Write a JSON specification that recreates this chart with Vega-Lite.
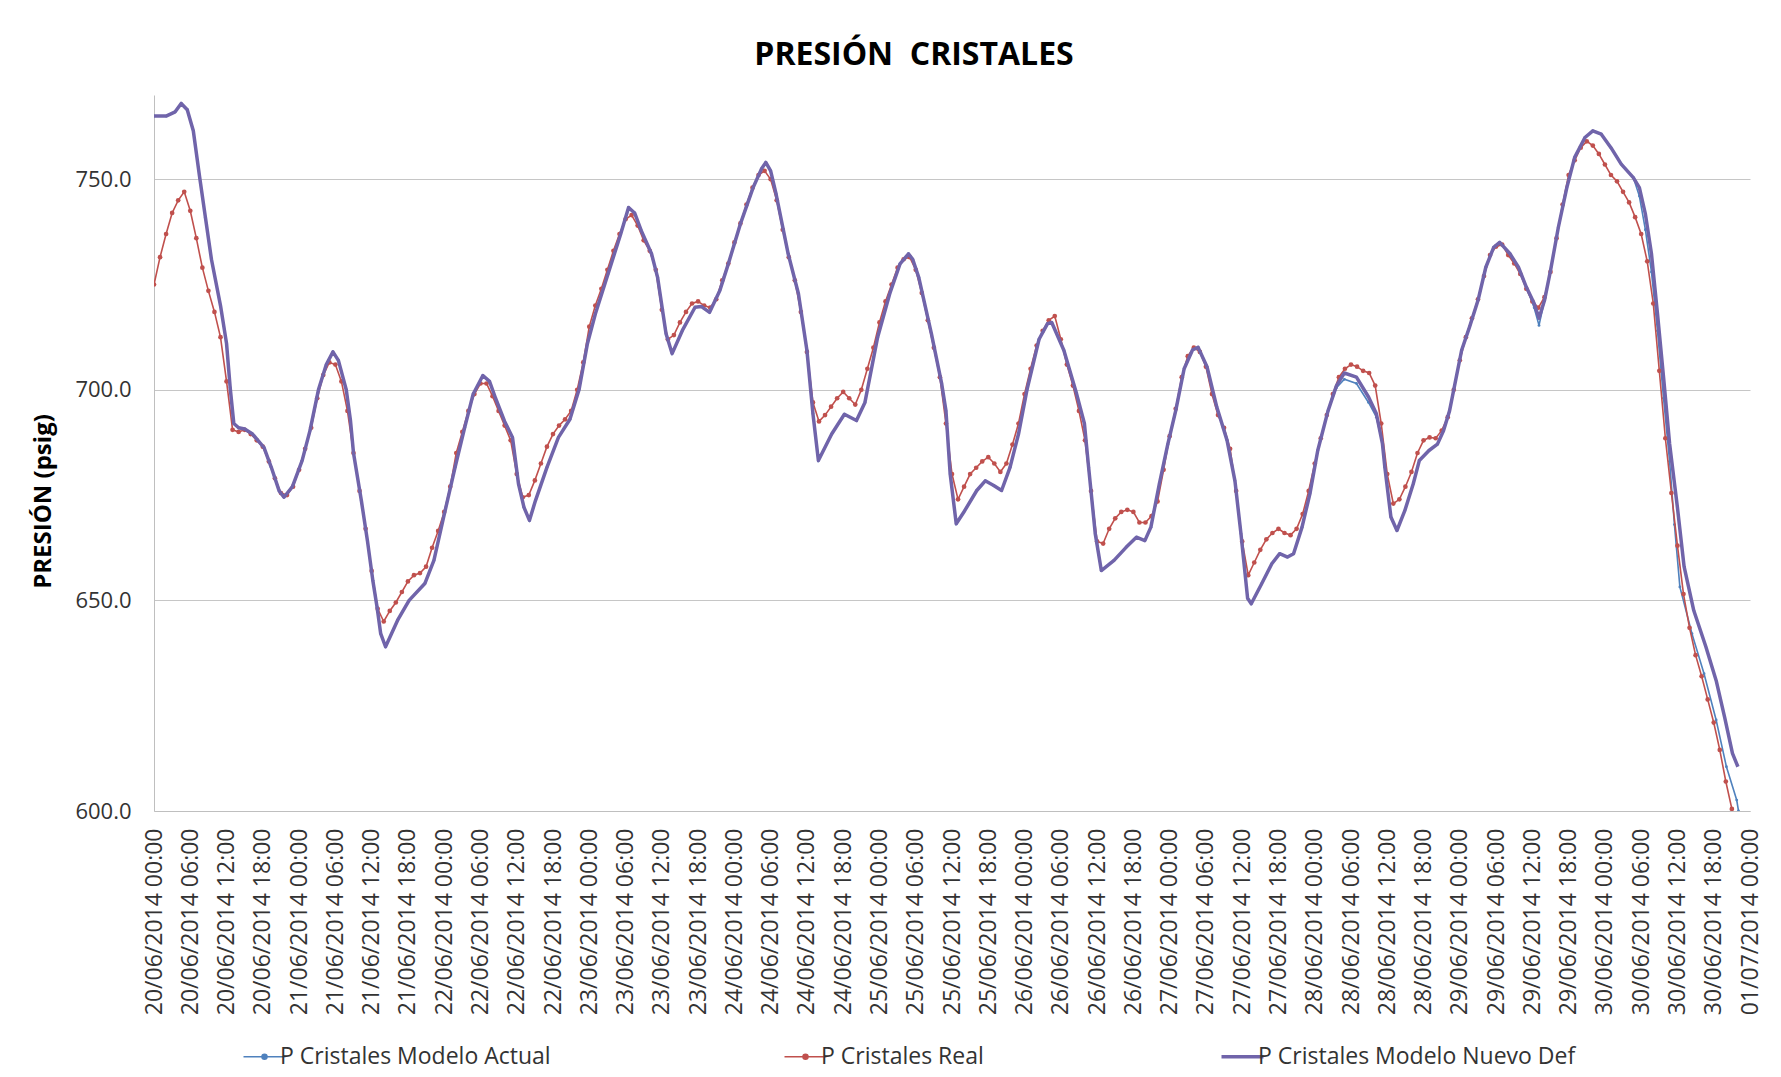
{
  "$schema": "https://vega.github.io/schema/vega-lite/v6.json",
  "width": 1596,
  "height": 716,
  "autosize": {"type": "none"},
  "padding": {"left": 154, "top": 95, "right": 31, "bottom": 266},
  "background": "white",
  "config": {"font": "Open Sans", "view": {"stroke": null}},
  "title": {"text": "PRESIÓN\u00a0 CRISTALES", "font": "Open Sans", "fontSize": 32, "fontWeight": "bold", "color": "#000000", "anchor": "middle", "dx": -38, "offset": 23},
  "datasets": {
    "real": [
      {"t": "2014-06-20T00:00", "v": 725}, {"t": "2014-06-20T01:00", "v": 731.5}, {"t": "2014-06-20T02:00", "v": 737}, {"t": "2014-06-20T03:00", "v": 742},
      {"t": "2014-06-20T04:00", "v": 745}, {"t": "2014-06-20T05:00", "v": 747}, {"t": "2014-06-20T06:00", "v": 742.5}, {"t": "2014-06-20T07:00", "v": 736},
      {"t": "2014-06-20T08:00", "v": 729}, {"t": "2014-06-20T09:00", "v": 723.5}, {"t": "2014-06-20T10:00", "v": 718.5}, {"t": "2014-06-20T11:00", "v": 712.5},
      {"t": "2014-06-20T12:00", "v": 702}, {"t": "2014-06-20T13:00", "v": 690.5}, {"t": "2014-06-20T14:00", "v": 690}, {"t": "2014-06-20T15:00", "v": 690.5},
      {"t": "2014-06-20T16:00", "v": 689.5}, {"t": "2014-06-20T17:00", "v": 688}, {"t": "2014-06-20T18:00", "v": 686.5}, {"t": "2014-06-20T19:00", "v": 683},
      {"t": "2014-06-20T20:00", "v": 679}, {"t": "2014-06-20T21:00", "v": 675.5}, {"t": "2014-06-20T22:00", "v": 675}, {"t": "2014-06-20T23:00", "v": 677},
      {"t": "2014-06-21T00:00", "v": 681}, {"t": "2014-06-21T01:00", "v": 686}, {"t": "2014-06-21T02:00", "v": 691}, {"t": "2014-06-21T03:00", "v": 698},
      {"t": "2014-06-21T04:00", "v": 703.5}, {"t": "2014-06-21T05:00", "v": 706.5}, {"t": "2014-06-21T06:00", "v": 706}, {"t": "2014-06-21T07:00", "v": 702},
      {"t": "2014-06-21T08:00", "v": 695}, {"t": "2014-06-21T09:00", "v": 685}, {"t": "2014-06-21T10:00", "v": 676}, {"t": "2014-06-21T11:00", "v": 667},
      {"t": "2014-06-21T12:00", "v": 657}, {"t": "2014-06-21T13:00", "v": 648}, {"t": "2014-06-21T14:00", "v": 645}, {"t": "2014-06-21T15:00", "v": 647.5},
      {"t": "2014-06-21T16:00", "v": 649.5}, {"t": "2014-06-21T17:00", "v": 652}, {"t": "2014-06-21T18:00", "v": 654.5}, {"t": "2014-06-21T19:00", "v": 656},
      {"t": "2014-06-21T20:00", "v": 656.5}, {"t": "2014-06-21T21:00", "v": 658}, {"t": "2014-06-21T22:00", "v": 662.5}, {"t": "2014-06-21T23:00", "v": 666.5},
      {"t": "2014-06-22T00:00", "v": 671}, {"t": "2014-06-22T01:00", "v": 677}, {"t": "2014-06-22T02:00", "v": 685}, {"t": "2014-06-22T03:00", "v": 690},
      {"t": "2014-06-22T04:00", "v": 695}, {"t": "2014-06-22T05:00", "v": 699}, {"t": "2014-06-22T06:00", "v": 701.5}, {"t": "2014-06-22T07:00", "v": 701.5},
      {"t": "2014-06-22T08:00", "v": 698.5}, {"t": "2014-06-22T09:00", "v": 695}, {"t": "2014-06-22T10:00", "v": 691.5}, {"t": "2014-06-22T11:00", "v": 688},
      {"t": "2014-06-22T12:00", "v": 680}, {"t": "2014-06-22T13:00", "v": 674.5}, {"t": "2014-06-22T14:00", "v": 675}, {"t": "2014-06-22T15:00", "v": 678.5},
      {"t": "2014-06-22T16:00", "v": 682.5}, {"t": "2014-06-22T17:00", "v": 686.5}, {"t": "2014-06-22T18:00", "v": 689.5}, {"t": "2014-06-22T19:00", "v": 691.5},
      {"t": "2014-06-22T20:00", "v": 693}, {"t": "2014-06-22T21:00", "v": 695}, {"t": "2014-06-22T22:00", "v": 700}, {"t": "2014-06-22T23:00", "v": 706.5},
      {"t": "2014-06-23T00:00", "v": 715}, {"t": "2014-06-23T01:00", "v": 720}, {"t": "2014-06-23T02:00", "v": 724}, {"t": "2014-06-23T03:00", "v": 728.5},
      {"t": "2014-06-23T04:00", "v": 733}, {"t": "2014-06-23T05:00", "v": 737}, {"t": "2014-06-23T06:00", "v": 740.5}, {"t": "2014-06-23T07:00", "v": 741.5},
      {"t": "2014-06-23T08:00", "v": 739}, {"t": "2014-06-23T09:00", "v": 735.5}, {"t": "2014-06-23T10:00", "v": 733}, {"t": "2014-06-23T11:00", "v": 728.5},
      {"t": "2014-06-23T12:00", "v": 719}, {"t": "2014-06-23T13:00", "v": 712}, {"t": "2014-06-23T14:00", "v": 713}, {"t": "2014-06-23T15:00", "v": 716},
      {"t": "2014-06-23T16:00", "v": 718.5}, {"t": "2014-06-23T17:00", "v": 720.5}, {"t": "2014-06-23T18:00", "v": 721}, {"t": "2014-06-23T19:00", "v": 720},
      {"t": "2014-06-23T20:00", "v": 719.5}, {"t": "2014-06-23T21:00", "v": 721.5}, {"t": "2014-06-23T22:00", "v": 726}, {"t": "2014-06-23T23:00", "v": 730},
      {"t": "2014-06-24T00:00", "v": 735}, {"t": "2014-06-24T01:00", "v": 739.5}, {"t": "2014-06-24T02:00", "v": 744}, {"t": "2014-06-24T03:00", "v": 748},
      {"t": "2014-06-24T04:00", "v": 751}, {"t": "2014-06-24T05:00", "v": 752}, {"t": "2014-06-24T06:00", "v": 750}, {"t": "2014-06-24T07:00", "v": 745},
      {"t": "2014-06-24T08:00", "v": 738}, {"t": "2014-06-24T09:00", "v": 731.5}, {"t": "2014-06-24T10:00", "v": 726}, {"t": "2014-06-24T11:00", "v": 718.5},
      {"t": "2014-06-24T12:00", "v": 709}, {"t": "2014-06-24T13:00", "v": 697}, {"t": "2014-06-24T14:00", "v": 692.5}, {"t": "2014-06-24T15:00", "v": 694},
      {"t": "2014-06-24T16:00", "v": 696}, {"t": "2014-06-24T17:00", "v": 698}, {"t": "2014-06-24T18:00", "v": 699.5}, {"t": "2014-06-24T19:00", "v": 698},
      {"t": "2014-06-24T20:00", "v": 696.5}, {"t": "2014-06-24T21:00", "v": 700}, {"t": "2014-06-24T22:00", "v": 705}, {"t": "2014-06-24T23:00", "v": 710},
      {"t": "2014-06-25T00:00", "v": 716}, {"t": "2014-06-25T01:00", "v": 721}, {"t": "2014-06-25T02:00", "v": 725}, {"t": "2014-06-25T03:00", "v": 729},
      {"t": "2014-06-25T04:00", "v": 731}, {"t": "2014-06-25T05:00", "v": 731.5}, {"t": "2014-06-25T06:00", "v": 728.5}, {"t": "2014-06-25T07:00", "v": 723},
      {"t": "2014-06-25T08:00", "v": 716.5}, {"t": "2014-06-25T09:00", "v": 710}, {"t": "2014-06-25T10:00", "v": 703}, {"t": "2014-06-25T11:00", "v": 692},
      {"t": "2014-06-25T12:00", "v": 680}, {"t": "2014-06-25T13:00", "v": 674}, {"t": "2014-06-25T14:00", "v": 677}, {"t": "2014-06-25T15:00", "v": 680},
      {"t": "2014-06-25T16:00", "v": 681.5}, {"t": "2014-06-25T17:00", "v": 683}, {"t": "2014-06-25T18:00", "v": 684}, {"t": "2014-06-25T19:00", "v": 682.5},
      {"t": "2014-06-25T20:00", "v": 680.5}, {"t": "2014-06-25T21:00", "v": 682.5}, {"t": "2014-06-25T22:00", "v": 687}, {"t": "2014-06-25T23:00", "v": 692},
      {"t": "2014-06-26T00:00", "v": 699}, {"t": "2014-06-26T01:00", "v": 705}, {"t": "2014-06-26T02:00", "v": 710.5}, {"t": "2014-06-26T03:00", "v": 714},
      {"t": "2014-06-26T04:00", "v": 716.5}, {"t": "2014-06-26T05:00", "v": 717.5}, {"t": "2014-06-26T06:00", "v": 712}, {"t": "2014-06-26T07:00", "v": 706},
      {"t": "2014-06-26T08:00", "v": 701}, {"t": "2014-06-26T09:00", "v": 695}, {"t": "2014-06-26T10:00", "v": 688}, {"t": "2014-06-26T11:00", "v": 676},
      {"t": "2014-06-26T12:00", "v": 664}, {"t": "2014-06-26T13:00", "v": 663.5}, {"t": "2014-06-26T14:00", "v": 667}, {"t": "2014-06-26T15:00", "v": 669.5},
      {"t": "2014-06-26T16:00", "v": 671}, {"t": "2014-06-26T17:00", "v": 671.5}, {"t": "2014-06-26T18:00", "v": 671}, {"t": "2014-06-26T19:00", "v": 668.5},
      {"t": "2014-06-26T20:00", "v": 668.5}, {"t": "2014-06-26T21:00", "v": 670}, {"t": "2014-06-26T22:00", "v": 673.5}, {"t": "2014-06-26T23:00", "v": 681},
      {"t": "2014-06-27T00:00", "v": 689}, {"t": "2014-06-27T01:00", "v": 695.5}, {"t": "2014-06-27T02:00", "v": 703}, {"t": "2014-06-27T03:00", "v": 708},
      {"t": "2014-06-27T04:00", "v": 710}, {"t": "2014-06-27T05:00", "v": 709}, {"t": "2014-06-27T06:00", "v": 705.5}, {"t": "2014-06-27T07:00", "v": 699},
      {"t": "2014-06-27T08:00", "v": 694}, {"t": "2014-06-27T09:00", "v": 691}, {"t": "2014-06-27T10:00", "v": 686}, {"t": "2014-06-27T11:00", "v": 676},
      {"t": "2014-06-27T12:00", "v": 664}, {"t": "2014-06-27T13:00", "v": 656}, {"t": "2014-06-27T14:00", "v": 659}, {"t": "2014-06-27T15:00", "v": 662},
      {"t": "2014-06-27T16:00", "v": 664.5}, {"t": "2014-06-27T17:00", "v": 666}, {"t": "2014-06-27T18:00", "v": 667}, {"t": "2014-06-27T19:00", "v": 666},
      {"t": "2014-06-27T20:00", "v": 665.5}, {"t": "2014-06-27T21:00", "v": 667}, {"t": "2014-06-27T22:00", "v": 670.5}, {"t": "2014-06-27T23:00", "v": 676},
      {"t": "2014-06-28T00:00", "v": 682.5}, {"t": "2014-06-28T01:00", "v": 688.5}, {"t": "2014-06-28T02:00", "v": 694}, {"t": "2014-06-28T03:00", "v": 699},
      {"t": "2014-06-28T04:00", "v": 703}, {"t": "2014-06-28T05:00", "v": 705}, {"t": "2014-06-28T06:00", "v": 706}, {"t": "2014-06-28T07:00", "v": 705.5},
      {"t": "2014-06-28T08:00", "v": 704.5}, {"t": "2014-06-28T09:00", "v": 704}, {"t": "2014-06-28T10:00", "v": 701}, {"t": "2014-06-28T11:00", "v": 692},
      {"t": "2014-06-28T12:00", "v": 680}, {"t": "2014-06-28T13:00", "v": 673}, {"t": "2014-06-28T14:00", "v": 674}, {"t": "2014-06-28T15:00", "v": 677},
      {"t": "2014-06-28T16:00", "v": 680.5}, {"t": "2014-06-28T17:00", "v": 685}, {"t": "2014-06-28T18:00", "v": 688}, {"t": "2014-06-28T19:00", "v": 688.7},
      {"t": "2014-06-28T20:00", "v": 688.5}, {"t": "2014-06-28T21:00", "v": 690.3}, {"t": "2014-06-28T22:00", "v": 693.5}, {"t": "2014-06-28T23:00", "v": 700},
      {"t": "2014-06-29T00:00", "v": 707}, {"t": "2014-06-29T01:00", "v": 712.5}, {"t": "2014-06-29T02:00", "v": 717}, {"t": "2014-06-29T03:00", "v": 721.5},
      {"t": "2014-06-29T04:00", "v": 727}, {"t": "2014-06-29T05:00", "v": 732}, {"t": "2014-06-29T06:00", "v": 734}, {"t": "2014-06-29T07:00", "v": 734.5},
      {"t": "2014-06-29T08:00", "v": 732}, {"t": "2014-06-29T09:00", "v": 730}, {"t": "2014-06-29T10:00", "v": 727.5}, {"t": "2014-06-29T11:00", "v": 724},
      {"t": "2014-06-29T12:00", "v": 721}, {"t": "2014-06-29T13:00", "v": 719.5}, {"t": "2014-06-29T14:00", "v": 722}, {"t": "2014-06-29T15:00", "v": 728},
      {"t": "2014-06-29T16:00", "v": 736}, {"t": "2014-06-29T17:00", "v": 744}, {"t": "2014-06-29T18:00", "v": 751}, {"t": "2014-06-29T19:00", "v": 754.5},
      {"t": "2014-06-29T20:00", "v": 757.5}, {"t": "2014-06-29T21:00", "v": 759}, {"t": "2014-06-29T22:00", "v": 758}, {"t": "2014-06-29T23:00", "v": 756},
      {"t": "2014-06-30T00:00", "v": 753.5}, {"t": "2014-06-30T01:00", "v": 751}, {"t": "2014-06-30T02:00", "v": 749.5}, {"t": "2014-06-30T03:00", "v": 747},
      {"t": "2014-06-30T04:00", "v": 744.5}, {"t": "2014-06-30T05:00", "v": 741}, {"t": "2014-06-30T06:00", "v": 737}, {"t": "2014-06-30T07:00", "v": 730.5},
      {"t": "2014-06-30T08:00", "v": 720.5}, {"t": "2014-06-30T09:00", "v": 704.5}, {"t": "2014-06-30T10:00", "v": 688.5}, {"t": "2014-06-30T11:00", "v": 675.5},
      {"t": "2014-06-30T12:00", "v": 663}, {"t": "2014-06-30T13:00", "v": 651.5}, {"t": "2014-06-30T14:00", "v": 643.5}, {"t": "2014-06-30T15:00", "v": 637},
      {"t": "2014-06-30T16:00", "v": 632}, {"t": "2014-06-30T17:00", "v": 626.5}, {"t": "2014-06-30T18:00", "v": 621}, {"t": "2014-06-30T19:00", "v": 614.5},
      {"t": "2014-06-30T20:00", "v": 607}, {"t": "2014-06-30T21:00", "v": 600.5}
    ],
    "nuevo": [
      {"t": "2014-06-20T00:00", "v": 765}, {"t": "2014-06-20T02:00", "v": 765}, {"t": "2014-06-20T03:30", "v": 766}, {"t": "2014-06-20T04:30", "v": 768},
      {"t": "2014-06-20T05:30", "v": 766.5}, {"t": "2014-06-20T06:30", "v": 761.5}, {"t": "2014-06-20T07:30", "v": 751}, {"t": "2014-06-20T08:30", "v": 741},
      {"t": "2014-06-20T09:30", "v": 731}, {"t": "2014-06-20T11:00", "v": 720}, {"t": "2014-06-20T12:00", "v": 711}, {"t": "2014-06-20T12:36", "v": 700.5},
      {"t": "2014-06-20T13:12", "v": 692}, {"t": "2014-06-20T14:00", "v": 691}, {"t": "2014-06-20T15:00", "v": 690.7}, {"t": "2014-06-20T16:18", "v": 689.5},
      {"t": "2014-06-20T18:12", "v": 686.3}, {"t": "2014-06-20T19:24", "v": 681.6}, {"t": "2014-06-20T20:42", "v": 676}, {"t": "2014-06-20T21:30", "v": 674.5},
      {"t": "2014-06-20T22:54", "v": 677}, {"t": "2014-06-21T00:30", "v": 683.2}, {"t": "2014-06-21T01:48", "v": 690.3}, {"t": "2014-06-21T03:12", "v": 700},
      {"t": "2014-06-21T04:30", "v": 706}, {"t": "2014-06-21T05:36", "v": 709}, {"t": "2014-06-21T06:30", "v": 707}, {"t": "2014-06-21T07:48", "v": 700},
      {"t": "2014-06-21T08:30", "v": 692.7}, {"t": "2014-06-21T09:00", "v": 685}, {"t": "2014-06-21T10:18", "v": 673.7}, {"t": "2014-06-21T11:18", "v": 664.2},
      {"t": "2014-06-21T12:12", "v": 654.7}, {"t": "2014-06-21T12:54", "v": 648.4}, {"t": "2014-06-21T13:30", "v": 642.1}, {"t": "2014-06-21T14:18", "v": 639},
      {"t": "2014-06-21T16:18", "v": 645.3}, {"t": "2014-06-21T18:12", "v": 650}, {"t": "2014-06-21T20:48", "v": 654}, {"t": "2014-06-21T22:18", "v": 659.5},
      {"t": "2014-06-21T23:54", "v": 669.7}, {"t": "2014-06-22T01:48", "v": 681.6}, {"t": "2014-06-22T03:24", "v": 691.1}, {"t": "2014-06-22T04:48", "v": 699},
      {"t": "2014-06-22T06:24", "v": 703.4}, {"t": "2014-06-22T07:30", "v": 702}, {"t": "2014-06-22T08:30", "v": 698}, {"t": "2014-06-22T10:00", "v": 692.5},
      {"t": "2014-06-22T11:18", "v": 688.7}, {"t": "2014-06-22T12:18", "v": 677.6}, {"t": "2014-06-22T13:12", "v": 672.1}, {"t": "2014-06-22T14:06", "v": 669},
      {"t": "2014-06-22T15:06", "v": 673.7}, {"t": "2014-06-22T17:00", "v": 681.6}, {"t": "2014-06-22T18:54", "v": 688.7}, {"t": "2014-06-22T20:48", "v": 693},
      {"t": "2014-06-22T22:18", "v": 700}, {"t": "2014-06-22T23:42", "v": 711}, {"t": "2014-06-23T01:00", "v": 718}, {"t": "2014-06-23T03:06", "v": 727.5},
      {"t": "2014-06-23T05:12", "v": 737}, {"t": "2014-06-23T06:30", "v": 743.3}, {"t": "2014-06-23T07:30", "v": 742}, {"t": "2014-06-23T08:36", "v": 737.8},
      {"t": "2014-06-23T10:18", "v": 732.3}, {"t": "2014-06-23T11:18", "v": 726.7}, {"t": "2014-06-23T12:42", "v": 713.3}, {"t": "2014-06-23T13:42", "v": 708.6},
      {"t": "2014-06-23T15:24", "v": 714.1}, {"t": "2014-06-23T17:30", "v": 719.6}, {"t": "2014-06-23T18:30", "v": 719.8}, {"t": "2014-06-23T19:54", "v": 718.4},
      {"t": "2014-06-23T21:36", "v": 723.6}, {"t": "2014-06-23T23:00", "v": 729.9}, {"t": "2014-06-24T01:00", "v": 739.4}, {"t": "2014-06-24T03:06", "v": 748},
      {"t": "2014-06-24T04:30", "v": 752.5}, {"t": "2014-06-24T05:12", "v": 754}, {"t": "2014-06-24T06:00", "v": 752}, {"t": "2014-06-24T06:54", "v": 746.5},
      {"t": "2014-06-24T08:54", "v": 732.3}, {"t": "2014-06-24T10:36", "v": 722.8}, {"t": "2014-06-24T12:00", "v": 709.4}, {"t": "2014-06-24T13:00", "v": 694.3},
      {"t": "2014-06-24T13:54", "v": 683.2}, {"t": "2014-06-24T16:06", "v": 689.5}, {"t": "2014-06-24T18:12", "v": 694.2}, {"t": "2014-06-24T20:12", "v": 692.7},
      {"t": "2014-06-24T21:36", "v": 697}, {"t": "2014-06-24T23:42", "v": 712.5}, {"t": "2014-06-25T01:42", "v": 722.8}, {"t": "2014-06-25T03:24", "v": 729.9},
      {"t": "2014-06-25T04:48", "v": 732.3}, {"t": "2014-06-25T05:30", "v": 731}, {"t": "2014-06-25T06:30", "v": 726.7}, {"t": "2014-06-25T08:36", "v": 713.3},
      {"t": "2014-06-25T10:18", "v": 701.4}, {"t": "2014-06-25T11:00", "v": 695}, {"t": "2014-06-25T11:42", "v": 680}, {"t": "2014-06-25T12:42", "v": 668.2},
      {"t": "2014-06-25T14:06", "v": 671.3}, {"t": "2014-06-25T16:06", "v": 676.1}, {"t": "2014-06-25T17:30", "v": 678.4}, {"t": "2014-06-25T18:54", "v": 677.3},
      {"t": "2014-06-25T20:12", "v": 676.1}, {"t": "2014-06-25T21:36", "v": 681.6}, {"t": "2014-06-25T23:00", "v": 689.5}, {"t": "2014-06-26T00:24", "v": 700},
      {"t": "2014-06-26T02:24", "v": 712}, {"t": "2014-06-26T03:48", "v": 715.7}, {"t": "2014-06-26T04:30", "v": 716}, {"t": "2014-06-26T06:30", "v": 709.4},
      {"t": "2014-06-26T08:36", "v": 699.1}, {"t": "2014-06-26T09:54", "v": 692}, {"t": "2014-06-26T10:36", "v": 681.6}, {"t": "2014-06-26T11:42", "v": 665.8},
      {"t": "2014-06-26T12:42", "v": 657.1}, {"t": "2014-06-26T14:48", "v": 659.5}, {"t": "2014-06-26T16:48", "v": 662.6}, {"t": "2014-06-26T18:30", "v": 665},
      {"t": "2014-06-26T19:54", "v": 664.2}, {"t": "2014-06-26T20:54", "v": 667.4}, {"t": "2014-06-26T22:18", "v": 677.7}, {"t": "2014-06-26T23:42", "v": 687.1},
      {"t": "2014-06-27T01:00", "v": 695}, {"t": "2014-06-27T02:24", "v": 705}, {"t": "2014-06-27T03:48", "v": 709.5}, {"t": "2014-06-27T04:42", "v": 710.1},
      {"t": "2014-06-27T06:12", "v": 705.4}, {"t": "2014-06-27T07:48", "v": 695.9}, {"t": "2014-06-27T09:30", "v": 688}, {"t": "2014-06-27T10:48", "v": 678.4},
      {"t": "2014-06-27T11:48", "v": 665.8}, {"t": "2014-06-27T12:54", "v": 650.5}, {"t": "2014-06-27T13:30", "v": 649.2}, {"t": "2014-06-27T15:12", "v": 653.9},
      {"t": "2014-06-27T16:54", "v": 658.7}, {"t": "2014-06-27T18:12", "v": 661.1}, {"t": "2014-06-27T19:30", "v": 660.3}, {"t": "2014-06-27T20:30", "v": 661.1},
      {"t": "2014-06-27T21:54", "v": 667.4}, {"t": "2014-06-27T23:12", "v": 675.3}, {"t": "2014-06-28T00:30", "v": 685.6}, {"t": "2014-06-28T02:12", "v": 695},
      {"t": "2014-06-28T03:36", "v": 701}, {"t": "2014-06-28T04:54", "v": 704}, {"t": "2014-06-28T06:54", "v": 703}, {"t": "2014-06-28T08:54", "v": 698.3},
      {"t": "2014-06-28T10:12", "v": 694.3}, {"t": "2014-06-28T11:12", "v": 687.2}, {"t": "2014-06-28T11:36", "v": 681.6}, {"t": "2014-06-28T12:36", "v": 669.8},
      {"t": "2014-06-28T13:36", "v": 666.6}, {"t": "2014-06-28T14:54", "v": 671.3}, {"t": "2014-06-28T16:18", "v": 677.7}, {"t": "2014-06-28T17:18", "v": 683.2},
      {"t": "2014-06-28T18:54", "v": 685.6}, {"t": "2014-06-28T20:18", "v": 687.1}, {"t": "2014-06-28T21:18", "v": 690.3}, {"t": "2014-06-28T22:18", "v": 695},
      {"t": "2014-06-29T00:18", "v": 709.4}, {"t": "2014-06-29T01:36", "v": 714.9}, {"t": "2014-06-29T03:00", "v": 721.2}, {"t": "2014-06-29T04:18", "v": 729.1},
      {"t": "2014-06-29T05:36", "v": 733.8}, {"t": "2014-06-29T06:36", "v": 735}, {"t": "2014-06-29T08:18", "v": 732.3}, {"t": "2014-06-29T09:42", "v": 729.1},
      {"t": "2014-06-29T11:00", "v": 724.4}, {"t": "2014-06-29T12:18", "v": 720.5}, {"t": "2014-06-29T13:06", "v": 717}, {"t": "2014-06-29T14:00", "v": 721.2},
      {"t": "2014-06-29T15:00", "v": 728.3}, {"t": "2014-06-29T16:18", "v": 738.6}, {"t": "2014-06-29T17:42", "v": 748}, {"t": "2014-06-29T19:00", "v": 755.2},
      {"t": "2014-06-29T20:42", "v": 759.9}, {"t": "2014-06-29T22:00", "v": 761.5}, {"t": "2014-06-29T23:24", "v": 760.7}, {"t": "2014-06-30T01:00", "v": 757.5},
      {"t": "2014-06-30T02:42", "v": 753.6}, {"t": "2014-06-30T04:42", "v": 750.4}, {"t": "2014-06-30T05:42", "v": 748}, {"t": "2014-06-30T06:42", "v": 741.7},
      {"t": "2014-06-30T07:42", "v": 732.3}, {"t": "2014-06-30T08:42", "v": 718}, {"t": "2014-06-30T09:42", "v": 703}, {"t": "2014-06-30T10:42", "v": 687.2},
      {"t": "2014-06-30T12:00", "v": 672}, {"t": "2014-06-30T13:06", "v": 658}, {"t": "2014-06-30T14:42", "v": 647.6}, {"t": "2014-06-30T16:42", "v": 639},
      {"t": "2014-06-30T18:24", "v": 631}, {"t": "2014-06-30T19:48", "v": 622.3}, {"t": "2014-06-30T21:06", "v": 613.7}, {"t": "2014-06-30T22:00", "v": 610.5}
    ],
    "actual": [
      {"t": "2014-06-20T00:00", "v": 765}, {"t": "2014-06-20T02:00", "v": 765}, {"t": "2014-06-20T03:30", "v": 766}, {"t": "2014-06-20T04:30", "v": 768},
      {"t": "2014-06-20T05:30", "v": 766.5}, {"t": "2014-06-20T06:30", "v": 761.5}, {"t": "2014-06-20T07:30", "v": 751}, {"t": "2014-06-20T08:30", "v": 741},
      {"t": "2014-06-20T09:30", "v": 731}, {"t": "2014-06-20T11:00", "v": 720}, {"t": "2014-06-20T12:00", "v": 711}, {"t": "2014-06-20T12:36", "v": 700.5},
      {"t": "2014-06-20T13:12", "v": 692}, {"t": "2014-06-20T14:00", "v": 691}, {"t": "2014-06-20T15:00", "v": 690.7}, {"t": "2014-06-20T16:18", "v": 689.5},
      {"t": "2014-06-20T18:12", "v": 686.3}, {"t": "2014-06-20T19:24", "v": 681.6}, {"t": "2014-06-20T20:42", "v": 676}, {"t": "2014-06-20T21:30", "v": 674.5},
      {"t": "2014-06-20T22:54", "v": 677}, {"t": "2014-06-21T00:30", "v": 683.2}, {"t": "2014-06-21T01:48", "v": 690.3}, {"t": "2014-06-21T03:12", "v": 700},
      {"t": "2014-06-21T04:30", "v": 706}, {"t": "2014-06-21T05:36", "v": 709}, {"t": "2014-06-21T06:30", "v": 707}, {"t": "2014-06-21T07:48", "v": 700},
      {"t": "2014-06-21T08:30", "v": 692.7}, {"t": "2014-06-21T09:00", "v": 685}, {"t": "2014-06-21T10:18", "v": 673.7}, {"t": "2014-06-21T11:18", "v": 664.2},
      {"t": "2014-06-21T12:12", "v": 654.7}, {"t": "2014-06-21T12:54", "v": 648.4}, {"t": "2014-06-21T13:30", "v": 642.1}, {"t": "2014-06-21T14:18", "v": 639},
      {"t": "2014-06-21T16:18", "v": 645.3}, {"t": "2014-06-21T18:12", "v": 650}, {"t": "2014-06-21T20:48", "v": 654}, {"t": "2014-06-21T22:18", "v": 659.5},
      {"t": "2014-06-21T23:54", "v": 669.7}, {"t": "2014-06-22T01:48", "v": 681.6}, {"t": "2014-06-22T03:24", "v": 691.1}, {"t": "2014-06-22T04:48", "v": 699},
      {"t": "2014-06-22T06:24", "v": 703.4}, {"t": "2014-06-22T07:30", "v": 702}, {"t": "2014-06-22T08:30", "v": 698}, {"t": "2014-06-22T10:00", "v": 692.5},
      {"t": "2014-06-22T11:18", "v": 688.7}, {"t": "2014-06-22T12:18", "v": 677.6}, {"t": "2014-06-22T13:12", "v": 672.1}, {"t": "2014-06-22T14:06", "v": 669},
      {"t": "2014-06-22T15:06", "v": 673.7}, {"t": "2014-06-22T17:00", "v": 681.6}, {"t": "2014-06-22T18:54", "v": 688.7}, {"t": "2014-06-22T20:48", "v": 693},
      {"t": "2014-06-22T22:18", "v": 700}, {"t": "2014-06-22T23:42", "v": 711}, {"t": "2014-06-23T01:00", "v": 718}, {"t": "2014-06-23T03:06", "v": 727.5},
      {"t": "2014-06-23T05:12", "v": 737}, {"t": "2014-06-23T06:30", "v": 743.3}, {"t": "2014-06-23T07:30", "v": 742}, {"t": "2014-06-23T08:36", "v": 737.8},
      {"t": "2014-06-23T10:18", "v": 732.3}, {"t": "2014-06-23T11:18", "v": 726.7}, {"t": "2014-06-23T12:42", "v": 713.3}, {"t": "2014-06-23T13:42", "v": 708.6},
      {"t": "2014-06-23T15:24", "v": 714.1}, {"t": "2014-06-23T17:30", "v": 719.6}, {"t": "2014-06-23T18:30", "v": 719.8}, {"t": "2014-06-23T19:54", "v": 718.4},
      {"t": "2014-06-23T21:36", "v": 723.6}, {"t": "2014-06-23T23:00", "v": 729.9}, {"t": "2014-06-24T01:00", "v": 739.4}, {"t": "2014-06-24T03:06", "v": 748},
      {"t": "2014-06-24T04:30", "v": 752.5}, {"t": "2014-06-24T05:12", "v": 754}, {"t": "2014-06-24T06:00", "v": 752}, {"t": "2014-06-24T06:54", "v": 746.5},
      {"t": "2014-06-24T08:54", "v": 732.3}, {"t": "2014-06-24T10:36", "v": 722.8}, {"t": "2014-06-24T12:00", "v": 709.4}, {"t": "2014-06-24T13:00", "v": 694.3},
      {"t": "2014-06-24T13:54", "v": 683.2}, {"t": "2014-06-24T16:06", "v": 689.5}, {"t": "2014-06-24T18:12", "v": 694.2}, {"t": "2014-06-24T20:12", "v": 692.7},
      {"t": "2014-06-24T21:36", "v": 697}, {"t": "2014-06-24T23:42", "v": 712.5}, {"t": "2014-06-25T01:42", "v": 722.8}, {"t": "2014-06-25T03:24", "v": 729.9},
      {"t": "2014-06-25T04:48", "v": 732.3}, {"t": "2014-06-25T05:30", "v": 731}, {"t": "2014-06-25T06:30", "v": 726.7}, {"t": "2014-06-25T08:36", "v": 713.3},
      {"t": "2014-06-25T10:18", "v": 701.4}, {"t": "2014-06-25T11:00", "v": 695}, {"t": "2014-06-25T11:42", "v": 680}, {"t": "2014-06-25T12:42", "v": 668.2},
      {"t": "2014-06-25T14:06", "v": 671.3}, {"t": "2014-06-25T16:06", "v": 676.1}, {"t": "2014-06-25T17:30", "v": 678.4}, {"t": "2014-06-25T18:54", "v": 677.3},
      {"t": "2014-06-25T20:12", "v": 676.1}, {"t": "2014-06-25T21:36", "v": 681.6}, {"t": "2014-06-25T23:00", "v": 689.5}, {"t": "2014-06-26T00:24", "v": 700},
      {"t": "2014-06-26T02:24", "v": 712}, {"t": "2014-06-26T03:48", "v": 715.7}, {"t": "2014-06-26T04:30", "v": 716}, {"t": "2014-06-26T06:30", "v": 709.4},
      {"t": "2014-06-26T08:36", "v": 699.1}, {"t": "2014-06-26T09:54", "v": 692}, {"t": "2014-06-26T10:36", "v": 681.6}, {"t": "2014-06-26T11:42", "v": 665.8},
      {"t": "2014-06-26T12:42", "v": 657.1}, {"t": "2014-06-26T14:48", "v": 659.5}, {"t": "2014-06-26T16:48", "v": 662.6}, {"t": "2014-06-26T18:30", "v": 665},
      {"t": "2014-06-26T19:54", "v": 664.2}, {"t": "2014-06-26T20:54", "v": 667.4}, {"t": "2014-06-26T22:18", "v": 677.7}, {"t": "2014-06-26T23:42", "v": 687.1},
      {"t": "2014-06-27T01:00", "v": 695}, {"t": "2014-06-27T02:24", "v": 705}, {"t": "2014-06-27T03:48", "v": 709.5}, {"t": "2014-06-27T04:42", "v": 710.1},
      {"t": "2014-06-27T06:12", "v": 705.4}, {"t": "2014-06-27T07:48", "v": 695.9}, {"t": "2014-06-27T09:30", "v": 688}, {"t": "2014-06-27T10:48", "v": 678.4},
      {"t": "2014-06-27T11:48", "v": 665.8}, {"t": "2014-06-27T12:54", "v": 650.5}, {"t": "2014-06-27T13:30", "v": 649.2}, {"t": "2014-06-27T15:12", "v": 653.9},
      {"t": "2014-06-27T16:54", "v": 658.7}, {"t": "2014-06-27T18:12", "v": 661.1}, {"t": "2014-06-27T19:30", "v": 660.3}, {"t": "2014-06-27T20:30", "v": 661.1},
      {"t": "2014-06-27T21:54", "v": 667.4}, {"t": "2014-06-27T23:12", "v": 675.3}, {"t": "2014-06-28T00:30", "v": 685.6}, {"t": "2014-06-28T02:12", "v": 695},
      {"t": "2014-06-28T03:36", "v": 700.5}, {"t": "2014-06-28T04:54", "v": 702.5}, {"t": "2014-06-28T06:54", "v": 701.5}, {"t": "2014-06-28T08:54", "v": 697},
      {"t": "2014-06-28T10:12", "v": 693.5}, {"t": "2014-06-28T11:12", "v": 687.2}, {"t": "2014-06-28T11:36", "v": 681.6}, {"t": "2014-06-28T12:36", "v": 669.8},
      {"t": "2014-06-28T13:36", "v": 666.6}, {"t": "2014-06-28T14:54", "v": 671.3}, {"t": "2014-06-28T16:18", "v": 677.7}, {"t": "2014-06-28T17:18", "v": 683.2},
      {"t": "2014-06-28T18:54", "v": 685.6}, {"t": "2014-06-28T20:18", "v": 687.1}, {"t": "2014-06-28T21:18", "v": 690.3}, {"t": "2014-06-28T22:18", "v": 695},
      {"t": "2014-06-29T00:18", "v": 709.4}, {"t": "2014-06-29T01:36", "v": 714.9}, {"t": "2014-06-29T03:00", "v": 721.2}, {"t": "2014-06-29T04:18", "v": 729.1},
      {"t": "2014-06-29T05:36", "v": 733.8}, {"t": "2014-06-29T06:36", "v": 735}, {"t": "2014-06-29T08:18", "v": 732.3}, {"t": "2014-06-29T09:42", "v": 729.1},
      {"t": "2014-06-29T11:00", "v": 724.4}, {"t": "2014-06-29T12:18", "v": 719.5}, {"t": "2014-06-29T13:06", "v": 715.3}, {"t": "2014-06-29T14:00", "v": 721.2},
      {"t": "2014-06-29T15:00", "v": 728.3}, {"t": "2014-06-29T16:18", "v": 738.6}, {"t": "2014-06-29T17:42", "v": 748}, {"t": "2014-06-29T19:00", "v": 755.2},
      {"t": "2014-06-29T20:42", "v": 759.9}, {"t": "2014-06-29T22:00", "v": 761.5}, {"t": "2014-06-29T23:24", "v": 760.7}, {"t": "2014-06-30T01:00", "v": 757.5},
      {"t": "2014-06-30T02:42", "v": 753.6}, {"t": "2014-06-30T04:42", "v": 750.4}, {"t": "2014-06-30T05:42", "v": 746}, {"t": "2014-06-30T06:42", "v": 738},
      {"t": "2014-06-30T07:42", "v": 728}, {"t": "2014-06-30T08:42", "v": 714}, {"t": "2014-06-30T09:42", "v": 698}, {"t": "2014-06-30T10:42", "v": 683},
      {"t": "2014-06-30T11:30", "v": 668}, {"t": "2014-06-30T12:24", "v": 653.2}, {"t": "2014-06-30T14:24", "v": 642.1}, {"t": "2014-06-30T16:24", "v": 632.6},
      {"t": "2014-06-30T18:24", "v": 621.6}, {"t": "2014-06-30T20:06", "v": 610.5}, {"t": "2014-06-30T21:48", "v": 602.6}, {"t": "2014-06-30T22:06", "v": 600}
    ]
  },
  "encoding": {
    "x": {
      "field": "t", "type": "temporal",
      "scale": {"domain": [{"year": 2014, "month": 6, "date": 20, "hours": 0}, {"year": 2014, "month": 7, "date": 1, "hours": 0}], "nice": false},
      "axis": {"title": null, "format": "%d/%m/%Y %H:%M", "labelAngle": -90, "tickCount": 44, "grid": false, "ticks": false, "labelPadding": 17, "labelFont": "Open Sans", "labelFontSize": 23, "labelLimit": 400, "labelColor": "#333333", "labelOverlap": false, "domainColor": "#bfbfbf"}
    },
    "y": {
      "field": "v", "type": "quantitative",
      "scale": {"domain": [600, 770], "nice": false, "zero": false},
      "axis": {"title": "PRESIÓN (psig)", "values": [600, 650, 700, 750], "format": ".1f", "grid": true, "gridColor": "#c6c6c6", "ticks": false, "labelPadding": 23, "labelFont": "Open Sans", "labelFontSize": 22, "labelColor": "#333333", "domainColor": "#bfbfbf", "titleFont": "Open Sans", "titleFontSize": 24, "titleFontWeight": "bold", "titleColor": "#000000", "titleX": -111, "titleY": 406, "titleBaseline": "middle"}
    }
  },
  "layer": [
    {
      "data": {"name": "actual"},
      "mark": {"type": "line", "strokeWidth": 1.6, "clip": true, "point": {"filled": true, "size": 8}},
      "encoding": {
        "color": {
          "datum": "P Cristales Modelo Actual", "type": "nominal",
          "scale": {"domain": ["P Cristales Modelo Actual", "P Cristales Real", "P Cristales Modelo Nuevo Def"], "range": ["#4f81bd", "#c0504d", "#7064aa"]},
          "legend": {
            "title": null, "orient": "none", "legendX": 99, "legendY": 950, "direction": "horizontal", "columns": 3, "columnPadding": 230, "padding": 0,
            "labelFont": "Open Sans", "labelFontSize": 23, "labelColor": "#333333", "labelOffset": 4, "labelLimit": 500,
            "symbolSize": 1764, "symbolType": "M-1,0H1",
            "encode": {
              "symbols": {
                "update": {
                  "shape": {"signal": "datum.value === 'P Cristales Modelo Nuevo Def' ? 'M-1,0H1' : 'M-1,0H1M-0.12,0A0.12,0.12,0,1,1,0.12,0A0.12,0.12,0,1,1,-0.12,0'"},
                  "stroke": {"scale": "color", "field": "value"},
                  "fill": {"scale": "color", "field": "value"},
                  "strokeWidth": {"signal": "datum.value === 'P Cristales Modelo Nuevo Def' ? 3.5 : 1.5"},
                  "opacity": {"value": 1}
                }
              }
            }
          }
        }
      }
    },
    {
      "data": {"name": "real"},
      "mark": {"type": "line", "strokeWidth": 1.6, "clip": true, "point": {"filled": true, "size": 22}},
      "encoding": {"color": {"datum": "P Cristales Real", "type": "nominal"}}
    },
    {
      "data": {"name": "nuevo"},
      "mark": {"type": "line", "strokeWidth": 3.5, "clip": true, "strokeJoin": "round"},
      "encoding": {"color": {"datum": "P Cristales Modelo Nuevo Def", "type": "nominal"}}
    }
  ]
}
